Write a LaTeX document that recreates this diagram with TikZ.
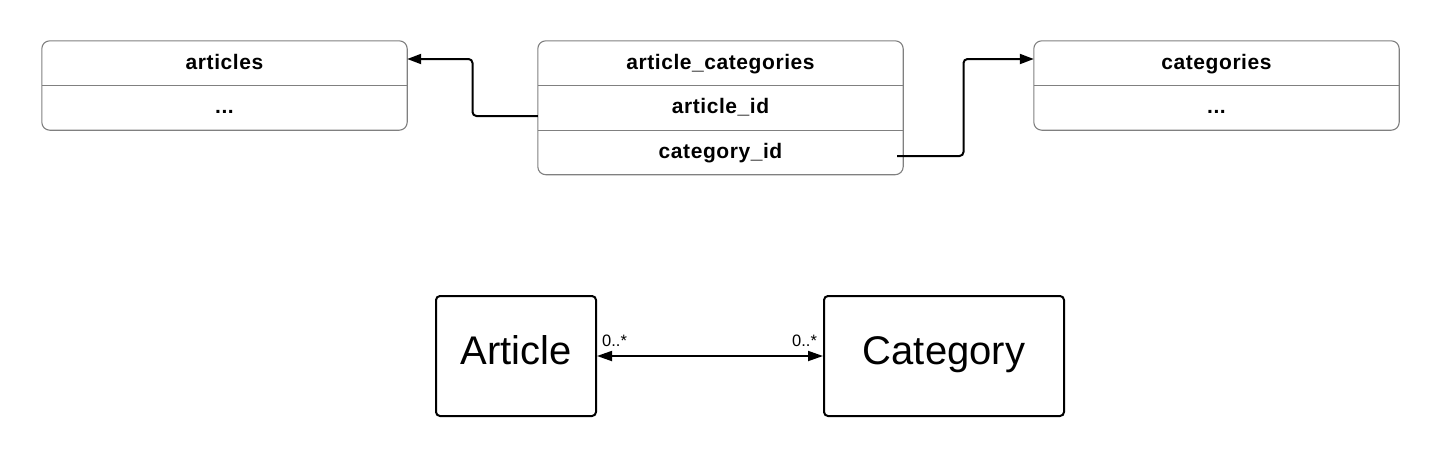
\documentclass[tikz,border=0pt]{standalone}
\usepackage{fontspec}
\setmainfont{Liberation Sans}
\newfontfamily\tblfont[LetterSpace=2.7]{Liberation Sans}
\usetikzlibrary{arrows.meta,positioning,fit}
\definecolor{tblgray}{HTML}{808080}
\tikzset{
  row/.style={rectangle, inner sep=0pt, minimum width=365pt, minimum height=44.5pt,
    text height=15pt, text depth=3.5pt,
    font=\tblfont\fontsize{21}{24}\selectfont\bfseries},
  tablebox/.style={draw=tblgray, line width=1.1pt, rounded corners=8pt, inner sep=0pt},
  divider/.style={draw=tblgray, line width=1.1pt},
  conn/.style={draw=black, line width=2pt, rounded corners=4pt, -{Triangle[length=14pt,width=10pt]}},
  entity/.style={draw=black, line width=2pt, rounded corners=4pt, inner sep=0pt,
    minimum height=120pt, text height=28pt, text depth=12pt,
    font=\fontsize{40}{44}\selectfont},
  assoc/.style={draw=black, line width=1.8pt, {Triangle[length=15pt,width=10pt]}-{Triangle[length=15pt,width=10pt]}},
  mult/.style={font=\fontsize{16.5}{18}\selectfont, inner sep=0pt, anchor=base west}
}
\begin{document}
\begin{tikzpicture}[x=1pt,y=-1pt]
\useasboundingbox (0,0) rectangle (1440,456);
% articles
\node[row] (art-h) at (224.5,63.25) {articles};
\node[row] (art-r1) at (224.5,107.75) {...};
\node[tablebox, fit=(art-h)(art-r1)] (art) {};
\draw[divider] (art-h.south west) -- (art-h.south east);
% article_categories
\node[row] (ac-h) at (720.5,63.25) {article\_categories};
\node[row] (ac-r1) at (720.5,107.75) {article\_id};
\node[row] (ac-r2) at (720.5,152.25) {category\_id};
\node[tablebox, fit=(ac-h)(ac-r2)] (ac) {};
\draw[divider] (ac-h.south west) -- (ac-h.south east);
\draw[divider] (ac-r1.south west) -- (ac-r1.south east);
% categories
\node[row] (cat-h) at (1216.5,63.25) {categories};
\node[row] (cat-r1) at (1216.5,107.75) {...};
\node[tablebox, fit=(cat-h)(cat-r1)] (cat) {};
\draw[divider] (cat-h.south west) -- (cat-h.south east);
% connectors
\coordinate (c1) at (472.5,116);
\coordinate (c2) at (963.5,156);
\draw[conn] ([yshift=-8.25pt]ac-r1.west) -- (c1) |- ([yshift=4.25pt]art-h.east);
\draw[conn] ([xshift=-6pt,yshift=-3.75pt]ac-r2.east) -- (c2) |- ([yshift=4.25pt]cat-h.west);
% bottom entities
\node[entity, minimum width=160pt] (article) at (516,356) {Article};
\node[entity, minimum width=240pt] (category) at (944,356) {Category};
\draw[assoc] (article.east) -- (category.west);
\node[mult] (m1) at (602,346) {0..*};
\node[mult] (m2) at (792,346) {0..*};
\end{tikzpicture}
\end{document}
